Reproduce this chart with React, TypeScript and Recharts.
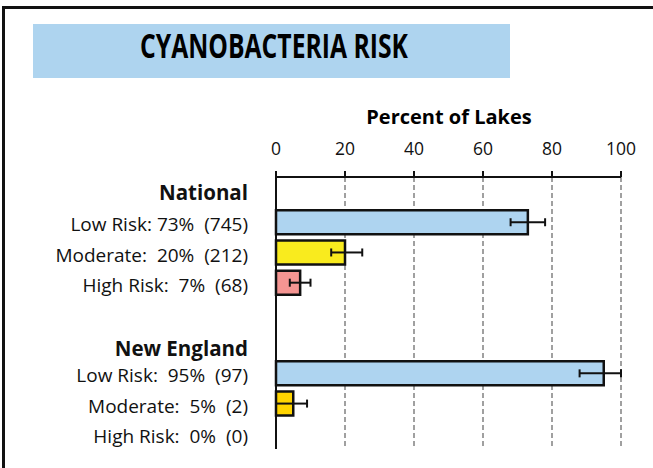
import React from 'react';
import { BarChart, Bar, XAxis, YAxis, CartesianGrid, Cell, ErrorBar } from 'recharts';

const FONT = '"Open Sans", "Noto Sans", sans-serif';

const CATEGORIES = [
  'National',
  'Low Risk: 73%  (745)',
  'Moderate:  20%  (212)',
  'High Risk:  7%  (68)',
  ' ',
  'New England',
  'Low Risk:  95%  (97)',
  'Moderate:  5%  (2)',
  'High Risk:  0%  (0)',
];
const HEADERS = ['National', 'New England'];
const PERCENTS = [null, 73, 20, 7, null, null, 95, 5, 0];
const ERRORS = [null, [5, 5], [4, 5], [3, 3], null, null, [7, 5], [5, 4], [0, 0]];
const BAR_COLORS = ['none', '#aed4f0', '#f9eb1e', '#f59592', 'none', 'none', '#aed4f0', '#ffd400', '#f59592'];
const X_TICKS = [0, 20, 40, 60, 80, 100];

const data = CATEGORIES.map((name, i) => ({
  name,
  value: PERCENTS[i],
  err: ERRORS[i],
}));

function CategoryTick({ x, y, payload }: any) {
  const isHeader = HEADERS.includes(payload.value);
  const dy = payload.value === 'New England' ? 13 : isHeader ? 8 : 9;
  return (
    <text
      x={x}
      y={y}
      dy={dy}
      textAnchor="end"
      fontFamily={FONT}
      fontSize={isHeader ? 20.5 : 19}
      fontWeight={isHeader ? 700 : 400}
      fill="#111"
      style={{ whiteSpace: 'pre' }}
    >
      {payload.value}
    </text>
  );
}

export default function App() {
  return (
    <div style={{ position: 'absolute', left: 0, top: 0, width: 653, height: 468, overflow: 'hidden', background: '#fff' }}>
      {/* outer frame */}
      <div style={{ position: 'absolute', left: 2, top: 6, width: 720, height: 600, border: '3px solid #111' }} />
      {/* title band */}
      <div style={{ position: 'absolute', left: 33, top: 24, width: 477, height: 54, background: '#aed4ef' }} />
      <svg width={653} height={468} style={{ position: 'absolute', left: 0, top: 0 }}>
        <text
          x={274}
          y={58}
          textAnchor="middle"
          fontFamily={FONT}
          fontWeight={700}
          fontSize={34}
          textLength={268}
          lengthAdjust="spacingAndGlyphs"
          fill="#000"
        >
          CYANOBACTERIA RISK
        </text>
        <text x={449} y={124} textAnchor="middle" fontFamily={FONT} fontWeight={700} fontSize={20} fill="#000">
          Percent of Lakes
        </text>
      </svg>
      <div style={{ position: 'absolute', left: 0, top: 0 }}>
        <BarChart
          width={653}
          height={468}
          data={data}
          layout="vertical"
          margin={{ top: 0, right: 32, bottom: 19, left: 0 }}
          barCategoryGap="10%"
        >
          <CartesianGrid horizontal={false} stroke="#a0a0a0" strokeWidth={2} strokeDasharray="5 3" />
          <XAxis
            type="number"
            orientation="top"
            domain={[0, 100]}
            ticks={X_TICKS}
            height={177}
            axisLine={{ stroke: '#111', strokeWidth: 2 }}
            tickLine={{ stroke: '#111', strokeWidth: 2 }}
            tickSize={6}
            tickMargin={16}
            tick={{ fontFamily: FONT, fontSize: 17.5, fill: '#111' }}
          />
          <YAxis
            type="category"
            dataKey="name"
            width={276}
            axisLine={{ stroke: '#111', strokeWidth: 2 }}
            tickLine={false}
            tickSize={0}
            tickMargin={28}
            interval={0}
            tick={<CategoryTick />}
          />
          <Bar dataKey="value" stroke="#111" strokeWidth={2.5} isAnimationActive={false}>
            {data.map((d, i) => (
              <Cell key={d.name} fill={BAR_COLORS[i]} />
            ))}
            <ErrorBar dataKey="err" direction="x" width={4} stroke="#111" strokeWidth={2} isAnimationActive={false} />
          </Bar>
        </BarChart>
      </div>
    </div>
  );
}
